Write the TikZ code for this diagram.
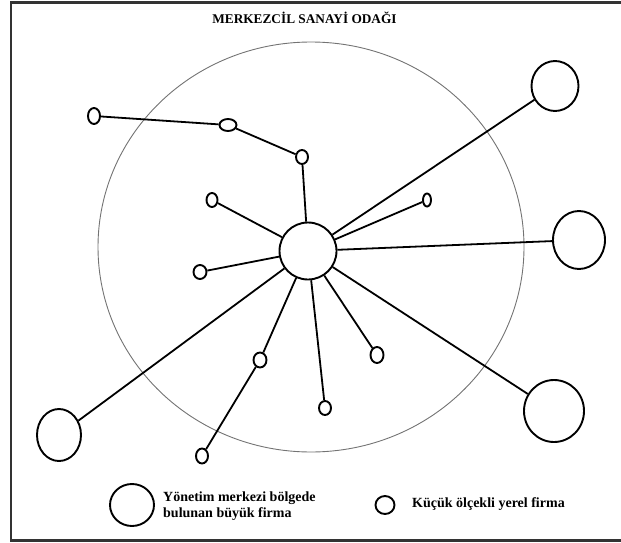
\documentclass[tikz,border=0pt]{standalone}
\usepackage{fontspec}
\setmainfont{Liberation Serif}
\usetikzlibrary{shapes.geometric}

\begin{document}
\begin{tikzpicture}[x=1pt, y=-1pt,
    firm/.style={draw, ellipse, line width=1.9pt, inner sep=0pt},
    hubfirm/.style={draw, circle, line width=1.9pt, inner sep=0pt, minimum size=57pt},
    link/.style={line width=1.8pt},
    zone/.style={draw=black!55, line width=0.9pt},
    legendtext/.style={font=\fontsize{14}{16}\selectfont\bfseries, align=left, inner sep=0pt},
]
  \useasboundingbox (0,0) rectangle (621,543);
  \draw[line width=2.5pt, black!80] (11,2.5) rectangle (640,540.5);

  % industrial focus zone
  \draw[zone] (311,247) ellipse [x radius=213, y radius=205];
  \node[font=\fontsize{13.3}{16}\selectfont\bfseries, anchor=base] (title) at (304.5,24) {MERKEZCİL SANAYİ ODAĞI};

  % central firm
  \node[hubfirm] (hub) at (308,251) {};

  % large firms
  \node[firm, minimum width=47pt, minimum height=50pt] (bigNE) at (555,86) {};
  \node[firm, minimum width=52pt, minimum height=58pt] (bigE) at (579,240) {};
  \node[firm, minimum width=60pt, minimum height=62pt] (bigSE) at (554,411) {};
  \node[firm, minimum width=44pt, minimum height=52pt] (bigSW) at (59,435) {};

  % small local firms
  \node[firm, minimum width=12pt, minimum height=16pt] (s1) at (94,116) {};
  \node[firm, minimum width=17pt, minimum height=12pt] (s2) at (228,125) {};
  \node[firm, minimum width=12pt, minimum height=14pt] (s3) at (302,157) {};
  \node[firm, minimum width=11pt, minimum height=14pt] (s4) at (212,200) {};
  \node[firm, minimum width=8pt, minimum height=13pt] (s5) at (427,200) {};
  \node[firm, minimum width=13pt, minimum height=14pt] (s6) at (200,272) {};
  \node[firm, minimum width=13pt, minimum height=15pt] (s7) at (260,360) {};
  \node[firm, minimum width=13pt, minimum height=16pt] (s8) at (377,355) {};
  \node[firm, minimum width=12pt, minimum height=14pt] (s9) at (325,408) {};
  \node[firm, minimum width=12pt, minimum height=15pt] (s10) at (202,456) {};

  % links
  \draw[link] (s1) -- (s2);
  \draw[link] (s2) -- (s3);
  \draw[link] (s3) -- (hub);
  \draw[link] (hub) -- (bigNE);
  \draw[link] (hub) -- (s4);
  \draw[link] (hub) -- (s5);
  \draw[link] (hub) -- (s6);
  \draw[link] (hub) -- (bigE);
  \draw[link] (hub) -- (bigSW);
  \draw[link] (hub) -- (s7);
  \draw[link] (s7) -- (s10);
  \draw[link] (hub) -- (s9);
  \draw[link] (hub) -- (s8);
  \draw[link] (hub) -- (bigSE);

  % legend
  \node[firm, minimum width=44pt, minimum height=42pt] (keybig) at (132,505) {};
  \node[legendtext, anchor=west] (keybigtext) at (163,506.3) {Yönetim merkezi bölgede\\bulunan büyük firma};
  \node[firm, minimum width=19pt, minimum height=18pt] (keysmall) at (385,505) {};
  \node[legendtext, anchor=base west] (keysmalltext) at (412,507) {Küçük ölçekli yerel firma};
\end{tikzpicture}
\end{document}
